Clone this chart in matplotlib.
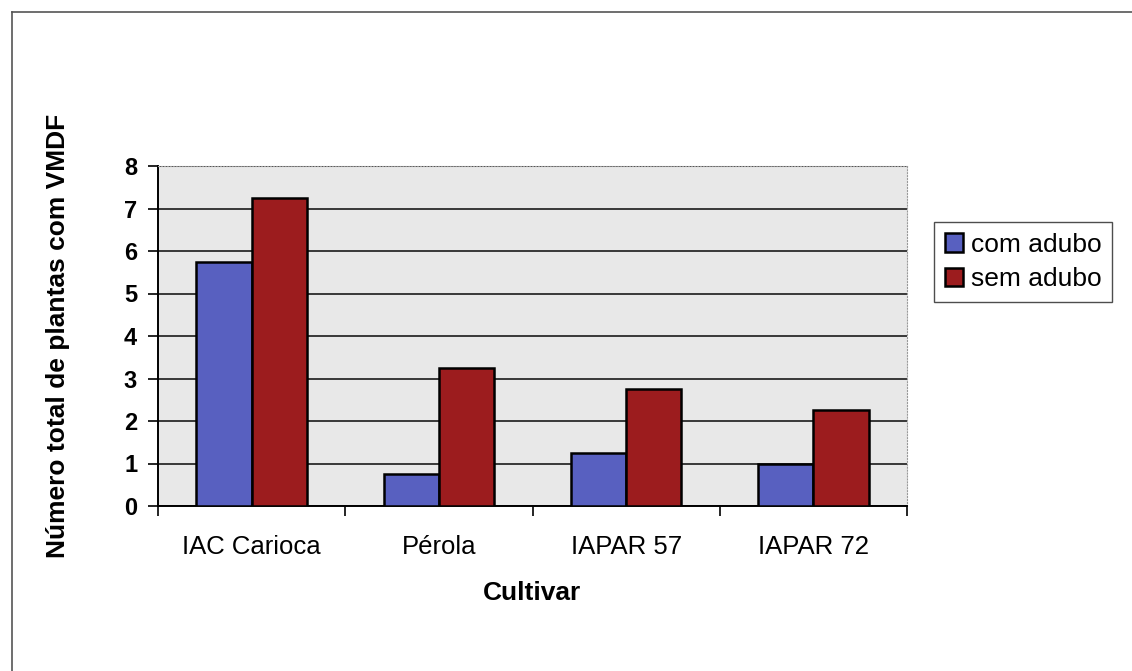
import numpy as np
import matplotlib.pyplot as plt
from matplotlib.lines import Line2D

plt.rcParams['font.family'] = ['Liberation Sans', 'DejaVu Sans']

# ── Data ──────────────────────────────────────────────
cultivars = ['IAC Carioca', 'Pérola', 'IAPAR 57', 'IAPAR 72']
com_adubo = [5.75, 0.75, 1.25, 1.0]
sem_adubo = [7.25, 3.25, 2.75, 2.25]

COL_COM = '#5860c0'
COL_SEM = '#9c1c1e'

W, H = 1132, 671
fig = plt.figure(figsize=(W / 100, H / 100), dpi=100)

# outer frame (left and top edges visible)
fig.add_artist(Line2D([12 / W, 12 / W], [0, 1 - 12 / H], color='#555555', lw=1.2))
fig.add_artist(Line2D([12 / W, 1], [1 - 12 / H, 1 - 12 / H], color='#555555', lw=1.2))

# plot area: x 158..907, y 166..506 (pixels)
ax = fig.add_axes([158 / W, 1 - 506 / H, (907 - 158) / W, (506 - 166) / H])
ax.set_facecolor('#e8e8e8')

x = np.arange(len(cultivars))
bw = 0.295
ax.bar(x - bw / 2, com_adubo, bw, color=COL_COM, edgecolor='black', lw=1.8,
       label='com adubo', zorder=3)
ax.bar(x + bw / 2, sem_adubo, bw, color=COL_SEM, edgecolor='black', lw=1.8,
       label='sem adubo', zorder=3)

ax.set_ylim(0, 8)
ax.set_xlim(-0.5, len(cultivars) - 0.5)
ax.set_yticks(range(0, 9))
ax.yaxis.grid(True, color='#1a1a1a', lw=1.2, zorder=1)
ax.set_axisbelow(True)

ax.set_xticks(x)
ax.set_xticklabels(cultivars, fontsize=18.5)
ax.set_xticks(np.arange(-0.5, len(cultivars)), minor=True)
ax.tick_params(axis='x', which='major', length=0, pad=21)
ax.tick_params(axis='x', which='minor', length=7, width=1.2, direction='out')
ax.tick_params(axis='y', labelsize=17, length=7, width=1.2, direction='out', pad=8)
for lab in ax.get_yticklabels():
    lab.set_fontweight('bold')

ax.spines['top'].set_color('#999999')
ax.spines['top'].set_linestyle(':')
ax.spines['right'].set_color('#999999')
ax.spines['right'].set_linestyle(':')
ax.spines['left'].set_linewidth(1.4)
ax.spines['bottom'].set_linewidth(1.4)

ax.set_xlabel('Cultivar', fontsize=19, fontweight='bold', labelpad=16)
ax.set_ylabel('Número total de plantas com VMDF', fontsize=19,
              fontweight='bold', labelpad=39)

leg = fig.legend(loc='upper left', bbox_to_anchor=(934 / W, 1 - 222 / H),
                 fontsize=19, frameon=True, fancybox=False, edgecolor='#222222',
                 handlelength=0.7, handleheight=0.7, handletextpad=0.3,
                 borderpad=0.4, labelspacing=0.4, borderaxespad=0)
leg.get_frame().set_linewidth(1.0)

fig.savefig('out.png', dpi=100, facecolor='white')
